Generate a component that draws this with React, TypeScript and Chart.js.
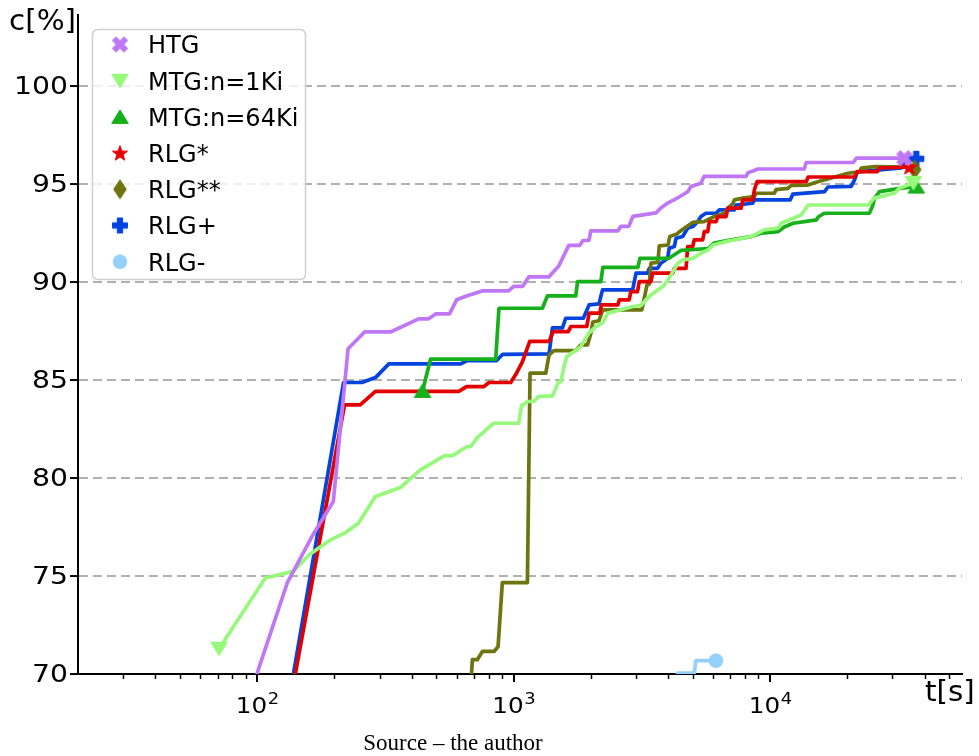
import React, { useEffect, useRef } from "react";
import { Chart, registerables } from "chart.js";

Chart.register(...registerables);

// ---------------- data: [t in s, c in %] ----------------
const htg: [number, number][] = [[94,69.0],[131,74.66],[165,77.11],[198,78.81],[226,86.6],[262,87.46],[331,87.46],[426,88.13],[466,88.13],[496,88.38],[562,88.38],[599,89.1],[655,89.3],[757,89.56],[955,89.56],[1000,89.79],[1084,89.79],[1145,90.27],[1371,90.27],[1433,90.55],[1499,90.83],[1640,91.88],[1811,91.88],[1862,92.13],[1965,92.13],[2000,92.62],[2548,92.62],[2618,92.85],[2812,92.85],[2917,93.36],[3589,93.54],[3752,93.79],[3999,94.05],[4217,94.2],[4487,94.4],[4784,94.63],[4910,94.89],[5372,95.05],[5521,95.4],[8054,95.4],[8203,95.59],[8974,95.78],[13590,95.78],[13820,96.11],[21090,96.11],[21680,96.33],[33360,96.33]];
const mtg1: [number, number][] = [[71,71.29],[107.5,74.9],[138,75.24],[160,76.1],[193,76.85],[221,77.22],[248,77.7],[289,79.06],[362,79.52],[433,80.42],[537,81.15],[578,81.15],[655,81.6],[679,81.6],[721,82.07],[836,82.8],[1046,82.8],[1074,83.7],[1135,83.91],[1197,83.91],[1253,84.17],[1420,84.2],[1486,84.85],[1527,84.93],[1572,85.69],[1610,86.2],[1720,86.46],[1827,86.71],[1964,87.4],[2090,87.73],[2220,87.91],[2328,88.42],[2917,88.76],[3134,88.81],[3280,89.1],[3430,89.35],[3652,89.61],[3820,89.78],[4000,90.12],[4217,90.63],[4370,90.97],[4571,91.14],[5000,91.22],[5370,91.48],[5730,91.65],[5990,91.9],[6730,92.07],[8430,92.33],[9480,92.67],[10750,92.76],[11040,93.01],[13220,93.43],[14070,93.94],[24150,93.94],[25470,94.29],[30500,94.54],[31900,94.8],[36200,95.07]];
const mtg64: [number, number][] = [[441,84.45],[474,86.07],[851,86.07],[876,88.67],[1294,88.67],[1354,89.3],[1746,89.3],[1774,90.03],[2187,90.03],[2227,90.76],[3050,90.76],[3105,91.22],[4030,91.22],[4490,91.62],[5730,91.72],[6040,92.0],[7040,92.16],[8430,92.33],[9230,92.5],[10750,92.58],[11350,92.82],[12300,93.01],[15140,93.18],[15400,93.33],[16250,93.52],[24380,93.52],[25040,93.86],[25550,94.29],[26700,94.62],[32500,94.8],[37150,94.88]];
const rlgStar: [number, number][] = [[135,68.69],[219,83.74],[252,83.74],[289,84.43],[611,84.43],[655,84.67],[765,84.67],[801,84.88],[973,84.88],[1027,85.37],[1081,85.93],[1155,86.98],[1374,86.98],[1426,87.48],[1633,87.48],[1670,87.74],[1928,87.74],[1968,88.42],[2168,88.42],[2197,88.84],[2547,88.84],[2583,89.1],[2820,89.1],[2864,89.52],[3040,89.52],[3087,90.03],[3430,90.03],[3480,90.46],[4170,90.46],[4230,90.71],[4700,90.71],[4770,91.82],[4990,91.82],[5060,92.16],[5460,92.16],[5540,92.58],[5710,92.58],[5790,93.09],[6150,93.09],[6250,93.35],[6730,93.35],[6840,93.78],[7710,93.78],[7820,94.2],[8550,94.2],[8680,94.71],[8890,95.13],[13820,95.13],[14070,95.37],[21280,95.37],[21880,95.64],[26180,95.64],[26660,95.83],[34900,95.88]];
const rlgStar2: [number, number][] = [[679,69.2],[690,70.73],[721,70.73],[755,71.15],[838,71.15],[869,71.39],[903,74.66],[1131,74.66],[1158,85.36],[1334,85.36],[1374,86.29],[1436,86.51],[1746,86.51],[1827,86.8],[1940,86.8],[2000,87.4],[2035,87.97],[2148,88.03],[2227,88.59],[3160,88.59],[3220,89.1],[3310,89.86],[3380,89.91],[3430,90.97],[3650,91.01],[3695,91.85],[4000,91.9],[4060,92.33],[4335,92.46],[4430,92.58],[4700,92.82],[4990,93.05],[5520,93.09],[6040,93.35],[6630,93.52],[6840,93.78],[7150,94.0],[7250,94.2],[7820,94.29],[8680,94.37],[8810,94.54],[10390,94.54],[10550,94.73],[11720,94.79],[12080,94.94],[14030,94.96],[15350,95.13],[20100,95.56],[22340,95.64],[22670,95.82],[25550,95.9],[33960,95.88],[36630,95.75]];
const rlgPlus: [number, number][] = [[133,68.69],[217,84.88],[256,84.88],[289,85.13],[326,85.83],[621,85.83],[659,86.0],[858,86.0],[906,86.32],[1374,86.34],[1416,87.67],[1549,87.67],[1596,88.16],[1869,88.16],[1968,88.84],[2150,88.89],[2220,89.61],[2910,89.61],[3000,90.46],[3330,90.46],[3380,90.71],[3640,90.71],[3750,90.97],[3985,91.22],[4040,91.73],[4230,91.82],[4295,92.24],[4560,92.33],[4770,92.76],[4990,92.84],[5220,93.09],[5370,93.35],[5620,93.52],[6150,93.52],[6340,93.69],[7250,93.69],[7360,93.94],[8550,94.03],[8680,94.2],[11970,94.2],[12270,94.5],[16300,94.62],[16800,94.86],[20700,94.89],[21340,95.22],[21880,95.63],[32500,95.83],[33660,96.3],[37150,96.3]];
const rlgMinus: [number, number][] = [[4300,69.3],[4350,70.05],[5060,70.05],[5130,70.68],[6150,70.68]];

const seriesNames = ["HTG", "MTG:n=1Ki", "MTG:n=64Ki", "RLG*", "RLG**", "RLG+", "RLG-"];
const seriesData = [htg, mtg1, mtg64, rlgStar, rlgStar2, rlgPlus, rlgMinus];
const seriesColors = ["#bf77f6", "#96f97b", "#15b01a", "#e50000", "#6e750e", "#0343df", "#95d0fc"];
const seriesMarkers = ["X", "v", "^", "*", "d", "P", "o"];

const yTicks = [70, 75, 80, 85, 90, 95, 100];
const xMajorTicks = [100, 1000, 10000];
const xMajorExp = ["2", "3", "4"];
const xMinorTicks = [30, 40, 50, 60, 70, 80, 90, 200, 300, 400, 500, 600, 700, 800, 900, 2000, 3000, 4000, 5000, 6000, 7000, 8000, 9000, 20000, 30000, 40000, 50000];

const X_MIN = 20;
const X_MAX = 56000;
const Y_MIN = 70;
const Y_MAX = 103.64;

function makeMarker(shape: string, color: string): HTMLCanvasElement {
  const s = 24;
  const c = document.createElement("canvas");
  c.width = s;
  c.height = s;
  const g = c.getContext("2d")!;
  g.translate(s / 2, s / 2);
  g.fillStyle = color;
  g.strokeStyle = color;
  g.lineWidth = 1;
  g.lineJoin = "miter";
  const poly = (pts: number[][]) => {
    g.beginPath();
    pts.forEach((p, i) => (i ? g.lineTo(p[0], p[1]) : g.moveTo(p[0], p[1])));
    g.closePath();
    g.fill();
    g.stroke();
  };
  const plusPts = (r: number, w: number) => [
    [-w, -r], [w, -r], [w, -w], [r, -w], [r, w], [w, w], [w, r], [-w, r], [-w, w], [-r, w], [-r, -w], [-w, -w],
  ];
  if (shape === "X") {
    const a = Math.PI / 4;
    const pts = plusPts(8.2, 2.6).map(([x, y]) => [x * Math.cos(a) - y * Math.sin(a), x * Math.sin(a) + y * Math.cos(a)]);
    poly(pts);
  } else if (shape === "v") {
    poly([[0, 7], [-8.3, -6.5], [8.3, -6.5]]);
  } else if (shape === "^") {
    poly([[0, -7], [-8.3, 6.5], [8.3, 6.5]]);
  } else if (shape === "*") {
    const pts: number[][] = [];
    for (let i = 0; i < 10; i++) {
      const r = i % 2 === 0 ? 8 : 3.3;
      const ang = -Math.PI / 2 + (i * Math.PI) / 5;
      pts.push([r * Math.cos(ang), r * Math.sin(ang) + 0.6]);
    }
    poly(pts);
  } else if (shape === "d") {
    poly([[0, -9.5], [6.3, 0], [0, 9.5], [-6.3, 0]]);
  } else if (shape === "P") {
    poly(plusPts(7.5, 2.7));
  } else {
    g.beginPath();
    g.arc(0, 0, 7.3, 0, Math.PI * 2);
    g.fill();
  }
  return c;
}

export default function App() {
  const ref = useRef<HTMLCanvasElement | null>(null);

  useEffect(() => {
    if (!ref.current) return;
    const markers = seriesColors.map((col, i) => makeMarker(seriesMarkers[i], col));

    const decor = {
      id: "decor",
      afterDraw(chart: any) {
        const ctx = chart.ctx as CanvasRenderingContext2D;
        const xs = chart.scales.x;
        const ys = chart.scales.y;
        const area = chart.chartArea;
        ctx.save();
        // x tick marks
        ctx.strokeStyle = "#000";
        xMinorTicks.forEach((v) => {
          const px = Math.round(xs.getPixelForValue(v)) + 0.5;
          ctx.lineWidth = 1.5;
          ctx.beginPath();
          ctx.moveTo(px, area.bottom);
          ctx.lineTo(px, area.bottom + 5);
          ctx.stroke();
        });
        xMajorTicks.forEach((v) => {
          const px = Math.round(xs.getPixelForValue(v));
          ctx.lineWidth = 2;
          ctx.beginPath();
          ctx.moveTo(px, area.bottom);
          ctx.lineTo(px, area.bottom + 8);
          ctx.stroke();
        });
        ctx.fillStyle = "#000";
        // y tick labels (slightly wide glyphs as in the reference)
        ctx.textAlign = "right";
        ctx.textBaseline = "middle";
        ctx.font = "25px 'DejaVu Sans'";
        yTicks.forEach((v) => {
          const py = ys.getPixelForValue(v);
          ctx.save();
          ctx.translate(68, py + 1);
          ctx.scale(1.13, 1);
          ctx.fillText(String(v), 0, 0);
          ctx.restore();
        });
        // x tick labels 10^n
        ctx.textBaseline = "alphabetic";
        ctx.textAlign = "left";
        xMajorTicks.forEach((v, i) => {
          const px = xs.getPixelForValue(v);
          ctx.font = "22px 'DejaVu Sans'";
          const w1 = ctx.measureText("10").width * 1.12;
          ctx.font = "16px 'DejaVu Sans'";
          const w2 = ctx.measureText(xMajorExp[i]).width * 1.12;
          const x0 = px - (w1 + w2) / 2;
          ctx.save();
          ctx.translate(x0, 713);
          ctx.scale(1.12, 1);
          ctx.font = "22px 'DejaVu Sans'";
          ctx.fillText("10", 0, 0);
          ctx.font = "16px 'DejaVu Sans'";
          ctx.fillText(xMajorExp[i], w1 / 1.12 + 0.5, -9);
          ctx.restore();
        });
        // axis titles
        ctx.font = "28px 'DejaVu Sans'";
        ctx.save();
        ctx.translate(9, 30);
        ctx.scale(1.05, 1);
        ctx.fillText("c[%]", 0, 0);
        ctx.restore();
        ctx.save();
        ctx.translate(925, 701);
        ctx.scale(1.05, 1);
        ctx.fillText("t[s]", 0, 0);
        ctx.restore();
        // caption
        ctx.font = "23px 'Liberation Serif'";
        ctx.textAlign = "center";
        ctx.fillText("Source \u2013 the author", 453, 750);

        // legend
        const bx = 92.5, by = 29.5, bw = 213, bh = 250, rr = 6;
        ctx.beginPath();
        ctx.moveTo(bx + rr, by);
        ctx.lineTo(bx + bw - rr, by);
        ctx.quadraticCurveTo(bx + bw, by, bx + bw, by + rr);
        ctx.lineTo(bx + bw, by + bh - rr);
        ctx.quadraticCurveTo(bx + bw, by + bh, bx + bw - rr, by + bh);
        ctx.lineTo(bx + rr, by + bh);
        ctx.quadraticCurveTo(bx, by + bh, bx, by + bh - rr);
        ctx.lineTo(bx, by + rr);
        ctx.quadraticCurveTo(bx, by, bx + rr, by);
        ctx.closePath();
        ctx.fillStyle = "rgba(255,255,255,0.8)";
        ctx.fill();
        ctx.strokeStyle = "#d0d0d0";
        ctx.lineWidth = 1.5;
        ctx.stroke();
        ctx.textAlign = "left";
        ctx.font = "24px 'DejaVu Sans'";
        ctx.fillStyle = "#000";
        seriesNames.forEach((name, i) => {
          const cy = 44.5 + i * 36.2;
          const m = markers[i];
          ctx.drawImage(m, 120 - m.width / 2, cy - m.height / 2);
          ctx.fillText(name, 148, cy + 8.8);
        });
        ctx.restore();
      },
    };

    const datasets = seriesData.map((d, i) => ({
      label: seriesNames[i],
      data: d.map(([x, y]) => ({ x, y })),
      borderColor: seriesColors[i],
      backgroundColor: seriesColors[i],
      borderWidth: 3.7,
      tension: 0,
      fill: false,
      clip: 0,
      pointStyle: markers[i],
      pointRadius: (c: any) => (c.dataIndex === 0 || c.dataIndex === d.length - 1 ? 8 : 0),
      pointHoverRadius: 0,
      borderJoinStyle: "round" as const,
    }));

    const chart = new Chart(ref.current, {
      type: "line",
      data: { datasets },
      options: {
        animation: false,
        responsive: false,
        events: [],
        layout: { padding: { left: 0, top: 15, right: 17, bottom: 0 } },
        plugins: { legend: { display: false }, tooltip: { enabled: false } },
        scales: {
          x: {
            type: "logarithmic",
            min: X_MIN,
            max: X_MAX,
            grid: { display: false },
            border: { display: true, color: "#000", width: 2 },
            ticks: { display: false },
            afterBuildTicks: (s: any) => {
              s.ticks = [...xMajorTicks, ...xMinorTicks].sort((a, b) => a - b).map((v) => ({ value: v }));
            },
            afterFit: (s: any) => {
              s.height = 82;
            },
          },
          y: {
            type: "linear",
            min: Y_MIN,
            max: Y_MAX,
            afterBuildTicks: (s: any) => {
              s.ticks = yTicks.map((v) => ({ value: v }));
            },
            afterFit: (s: any) => {
              s.width = 78;
            },
            ticks: { display: false },
            grid: {
              color: (c: any) => (c.tick && c.tick.value === 70 ? "rgba(0,0,0,0)" : "#b0b0b0"),
              lineWidth: 2.1,
              tickColor: "#000",
              tickWidth: 2,
              tickLength: 8,
              tickBorderDash: [],
            },
            border: { display: true, color: "#000", width: 2, dash: [9, 5] },
          },
        },
      },
      plugins: [decor],
    });
    return () => chart.destroy();
  }, []);

  return (
    <div style={{ position: "absolute", left: 0, top: 0, width: 979, height: 756, background: "#fff" }}>
      <canvas ref={ref} width={979} height={756} style={{ display: "block" }} />
    </div>
  );
}
